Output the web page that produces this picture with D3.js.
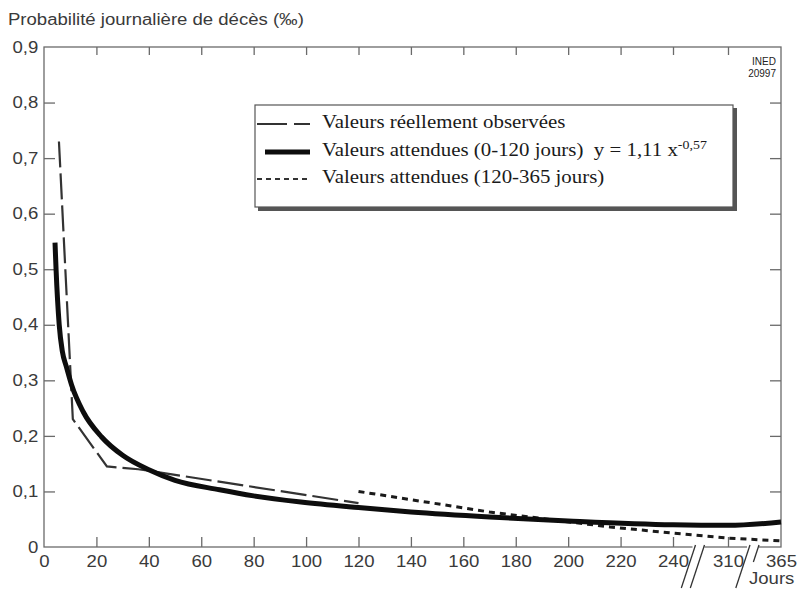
<!DOCTYPE html>
<html>
<head>
<meta charset="utf-8">
<script src="https://cdn.jsdelivr.net/npm/d3@7"></script>
<style>
  body { margin: 0; background: #fff; }
  svg { display: block; }
</style>
</head>
<body>
<div id="chart"></div>
<script>
// valeurs (jours, probabilité en ‰)
const observedDays = [5.7, 11, 24, 36, 120]
const observedValues = [0.73, 0.23, 0.145, 0.14, 0.079]

const fitDays = [4.2, 4.6, 5.8, 7, 8.5, 10.5, 15, 22, 30, 40, 50, 67, 80, 98, 120, 140, 170, 200, 240, 310, 365]
const fitValues = [0.548, 0.5, 0.4, 0.352, 0.325, 0.292, 0.243, 0.198, 0.165, 0.139, 0.12, 0.103, 0.092, 0.081, 0.071, 0.063, 0.054, 0.047, 0.04, 0.039, 0.045]

const lateDays = [120, 170, 216, 240, 310, 365]
const lateValues = [0.1, 0.063, 0.036, 0.025, 0.016, 0.011]

const xTicks = [0, 20, 40, 60, 80, 100, 120, 140, 160, 180, 200, 220, 240, 310, 365]
const yTicks = [0, 0.1, 0.2, 0.3, 0.4, 0.5, 0.6, 0.7, 0.8, 0.9]
const breakDays = [275, 338]

const legendLabels = [
  "Valeurs réellement observées",
  "Valeurs attendues (0-120 jours)",
  "Valeurs attendues (120-365 jours)"
]
const equationText = "y = 1,11 x"
const equationExp = "-0,57"

const WIDTH = 799
const HEIGHT = 589
const SX = 1.16  // the scan is stretched horizontally

const svg = d3.select("#chart").append("svg")
  .attr("width", WIDTH)
  .attr("height", HEIGHT)

const x = d3.scaleLinear()
  .domain([0, 240, 310, 365])
  .range([44, 673, 728, 781])

const y = d3.scaleLinear()
  .domain([0, 0.9])
  .range([547, 47])

const AXIS = "#6a6a6a"
const TEXT = "#3a3a3a"
const sans = "'Liberation Sans', Arial, sans-serif"
const serif = "'Liberation Serif', 'Times New Roman', serif"

const fmt = d => d === 0 ? "0" : d.toFixed(1).replace(".", ",")

// frame
svg.append("rect")
  .attr("x", x(0)).attr("y", y(0.9))
  .attr("width", x(365) - x(0)).attr("height", y(0) - y(0.9))
  .attr("fill", "none").attr("stroke", AXIS).attr("stroke-width", 1.3)

function styleAxis(g) {
  g.select(".domain").remove()
  g.selectAll("line").attr("stroke", AXIS).attr("stroke-width", 1.3)
  g.selectAll("text")
    .attr("fill", TEXT)
    .attr("font-family", sans)
    .attr("font-size", "16px")
    .attr("transform", `scale(${SX},1)`)
}

svg.append("g")
  .attr("transform", `translate(0,${y(0)})`)
  .call(d3.axisBottom(x).tickValues(xTicks).tickSizeInner(-10).tickSizeOuter(0).tickPadding(9))
  .call(styleAxis)
  .call(g => g.selectAll(".tick").filter(d => d === 0 || d === 365).select("line").remove())

svg.append("g")
  .attr("transform", `translate(0,${y(0.9)})`)
  .call(d3.axisTop(x).tickValues(xTicks.filter(d => d > 0 && d < 365)).tickSizeInner(-8).tickSizeOuter(0).tickFormat(""))
  .call(styleAxis)

svg.append("g")
  .attr("transform", `translate(${x(0)},0)`)
  .call(d3.axisLeft(y).tickValues(yTicks).tickSizeInner(-11).tickSizeOuter(0).tickPadding(5).tickFormat(fmt))
  .call(styleAxis)
  .call(g => g.selectAll(".tick").filter(d => d === 0 || d === 0.9).select("line").remove())

svg.append("g")
  .attr("transform", `translate(${x(365)},0)`)
  .call(d3.axisRight(y).tickValues(yTicks.filter(d => d > 0 && d < 0.9)).tickSizeInner(-11).tickSizeOuter(0).tickFormat(""))
  .call(styleAxis)

// axis breaks
breakDays.forEach((d, i) => {
  const bx = x(d)
  const g = svg.append("g")
  g.append("rect")
    .attr("x", bx - 8).attr("y", y(0) - 2).attr("width", 12).attr("height", 4)
    .attr("fill", "#fff")
  ;[-5, 4].forEach((off, j) => {
    const bottom = (i === 1 && j === 1) ? 562 : 588
    g.append("line")
      .attr("x1", bx + off - (bottom - 545) * 0.33).attr("y1", bottom)
      .attr("x2", bx + off).attr("y2", 545)
      .attr("stroke", "#333").attr("stroke-width", 1.3)
  })
})

svg.append("text")
  .attr("transform", `translate(749,584) scale(${SX},1)`)
  .attr("font-family", sans).attr("font-size", "16px").attr("fill", TEXT)
  .text("Jours")

// title
svg.append("text")
  .attr("transform", `translate(8,25) scale(${SX},1)`)
  .attr("font-family", sans).attr("font-size", "16px").attr("fill", TEXT)
  .text("Probabilité journalière de décès (‰)")

// INED stamp
svg.append("text")
  .attr("text-anchor", "end")
  .attr("font-family", sans).attr("font-size", "10px").attr("fill", "#222")
  .selectAll("tspan")
  .data(["INED", "20997"])
  .join("tspan")
    .attr("x", 776)
    .attr("y", (d, i) => 65 + i * 12)
    .text(d => d)

// curves
const line = d3.line()
  .x(d => x(d[0]))
  .y(d => y(d[1]))

svg.append("path")
  .datum(d3.zip(lateDays, lateValues))
  .attr("d", line)
  .attr("fill", "none")
  .attr("stroke", "#1a1a1a")
  .attr("stroke-width", 3)
  .attr("stroke-dasharray", "6,5")

svg.append("path")
  .datum(d3.zip(observedDays, observedValues))
  .attr("d", line)
  .attr("fill", "none")
  .attr("stroke", "#333")
  .attr("stroke-width", 2.2)
  .attr("stroke-dasharray", "26,6")

svg.append("path")
  .datum(d3.zip(fitDays, fitValues))
  .attr("d", line.curve(d3.curveMonotoneX))
  .attr("fill", "none")
  .attr("stroke", "#0d0d0d")
  .attr("stroke-width", 5)

// legend
const legend = svg.append("g")

legend.append("rect")
  .attr("x", 258).attr("y", 108).attr("width", 479).attr("height", 103)
  .attr("fill", "#555")
legend.append("rect")
  .attr("x", 255).attr("y", 105).attr("width", 478).attr("height", 102)
  .attr("fill", "#fff").attr("stroke", "#555").attr("stroke-width", 1.2)

const samples = [
  { y: 124, x1: 257, width: 2.2, dash: "30,7,16", color: "#333" },
  { y: 152, x1: 265, width: 5, dash: null, color: "#0d0d0d" },
  { y: 179, x1: 257, width: 1.8, dash: "5,4", color: "#333" }
]

legend.selectAll("line.sample")
  .data(samples)
  .join("line")
    .attr("class", "sample")
    .attr("x1", d => d.x1).attr("x2", 310)
    .attr("y1", d => d.y).attr("y2", d => d.y)
    .attr("stroke", d => d.color)
    .attr("stroke-width", d => d.width)
    .attr("stroke-dasharray", d => d.dash)

const labels = legend.selectAll("text.label")
  .data(legendLabels)
  .join("text")
    .attr("class", "label")
    .attr("transform", (d, i) => `translate(322,${128 + i * 27.5}) scale(${SX},1)`)
    .attr("font-family", serif)
    .attr("font-size", "18px")
    .attr("fill", "#1a1a1a")
    .style("white-space", "pre")
    .text(d => d)

labels.filter((d, i) => i === 1)
  .append("tspan").text("  " + equationText)
labels.filter((d, i) => i === 1)
  .append("tspan")
    .attr("dy", -7)
    .attr("font-size", "12px")
    .text(equationExp)
</script>
</body>
</html>
